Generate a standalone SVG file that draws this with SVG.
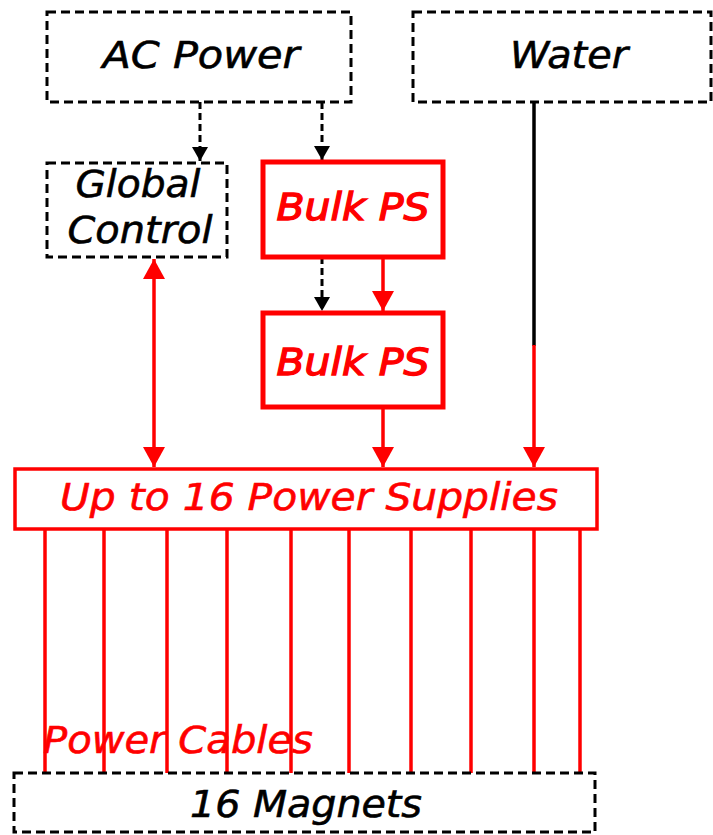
<svg xmlns="http://www.w3.org/2000/svg" width="713" height="835" viewBox="0 0 713 835">
<defs>
<style>
.dbox{fill:#fff;stroke:#000;stroke-width:3;stroke-dasharray:9 5}
.rbox{fill:#fff;stroke:#f00;stroke-width:5}
.rbox2{fill:#fff;stroke:#f00;stroke-width:3.5}
.t{font-family:"DejaVu Sans",Verdana,sans-serif;font-style:italic;font-size:37px;text-anchor:middle}
.blk{fill:#000;stroke:#000;stroke-width:0.6}
.red{fill:#f00;stroke:#f00;stroke-width:0.6}
.bold{stroke-width:1.3}
.dl{stroke:#000;stroke-width:3;stroke-dasharray:7 4;fill:none}
.rl{stroke:#f00;stroke-width:3.5;fill:none}
.bl{stroke:#000;stroke-width:3.5;fill:none}
</style>
<marker id="ra" markerUnits="userSpaceOnUse" markerWidth="24" markerHeight="22" refX="20" refY="11" orient="auto-start-reverse" viewBox="0 0 24 22">
<path d="M0,0 L20,11 L0,22 Z" fill="#f00"/>
</marker>
<marker id="ba" markerUnits="userSpaceOnUse" markerWidth="16" markerHeight="16" refX="14" refY="8" orient="auto" viewBox="0 0 16 16">
<path d="M0,0 L14,8 L0,16 Z" fill="#000"/>
</marker>
</defs>
<rect width="713" height="835" fill="#fff"/>
<g id="connectors">
<path class="dl" d="M200,102 V161" marker-end="url(#ba)"/>
<path class="dl" d="M322,102 V160" marker-end="url(#ba)"/>
<path class="dl" d="M322,257 V311" marker-end="url(#ba)"/>
<path class="rl" d="M383,257 V311" marker-end="url(#ra)"/>
<path class="rl" d="M383,407 V467" marker-end="url(#ra)"/>
<path class="bl" d="M534,102 V346"/>
<path class="rl" d="M534,345 V467" marker-end="url(#ra)"/>
<path class="rl" d="M154,259 V467" marker-start="url(#ra)" marker-end="url(#ra)"/>
<g class="rl">
<path d="M45,529 V773"/>
<path d="M104,529 V773"/>
<path d="M167,529 V773"/>
<path d="M227,529 V773"/>
<path d="M291,529 V773"/>
<path d="M349,529 V773"/>
<path d="M411,529 V773"/>
<path d="M471,529 V773"/>
<path d="M534,529 V773"/>
<path d="M580,529 V773"/>
</g>
<text class="t red" x="178" y="753" textLength="270" lengthAdjust="spacingAndGlyphs">Power Cables</text>
</g>
<g id="ac-power">
<rect class="dbox" x="47" y="12" width="304" height="90"/>
<text class="t blk" x="201" y="68" textLength="197" lengthAdjust="spacingAndGlyphs">AC Power</text>
</g>
<g id="water">
<rect class="dbox" x="413" y="12" width="298" height="90"/>
<text class="t blk" x="569" y="68" textLength="118" lengthAdjust="spacingAndGlyphs">Water</text>
</g>
<g id="global-control">
<rect class="dbox" x="47" y="163" width="180" height="94"/>
<text class="t blk" x="138" y="197" textLength="125" lengthAdjust="spacingAndGlyphs">Global</text>
<text class="t blk" x="140" y="243" textLength="145" lengthAdjust="spacingAndGlyphs">Control</text>
</g>
<g id="bulk-ps-1">
<rect class="rbox" x="263" y="162" width="180" height="95"/>
<text class="t red bold" x="353" y="220" textLength="153" lengthAdjust="spacingAndGlyphs">Bulk PS</text>
</g>
<g id="bulk-ps-2">
<rect class="rbox" x="263" y="313" width="180" height="94"/>
<text class="t red bold" x="353" y="375" textLength="153" lengthAdjust="spacingAndGlyphs">Bulk PS</text>
</g>
<g id="power-supplies">
<rect class="rbox2" x="15" y="469" width="582" height="60"/>
<text class="t red" x="309" y="510" textLength="498" lengthAdjust="spacingAndGlyphs">Up to 16 Power Supplies</text>
</g>
<g id="magnets">
<rect class="dbox" x="14" y="773" width="581" height="59"/>
<text class="t blk" x="306" y="817" textLength="232" lengthAdjust="spacingAndGlyphs">16 Magnets</text>
</g>
</svg>
